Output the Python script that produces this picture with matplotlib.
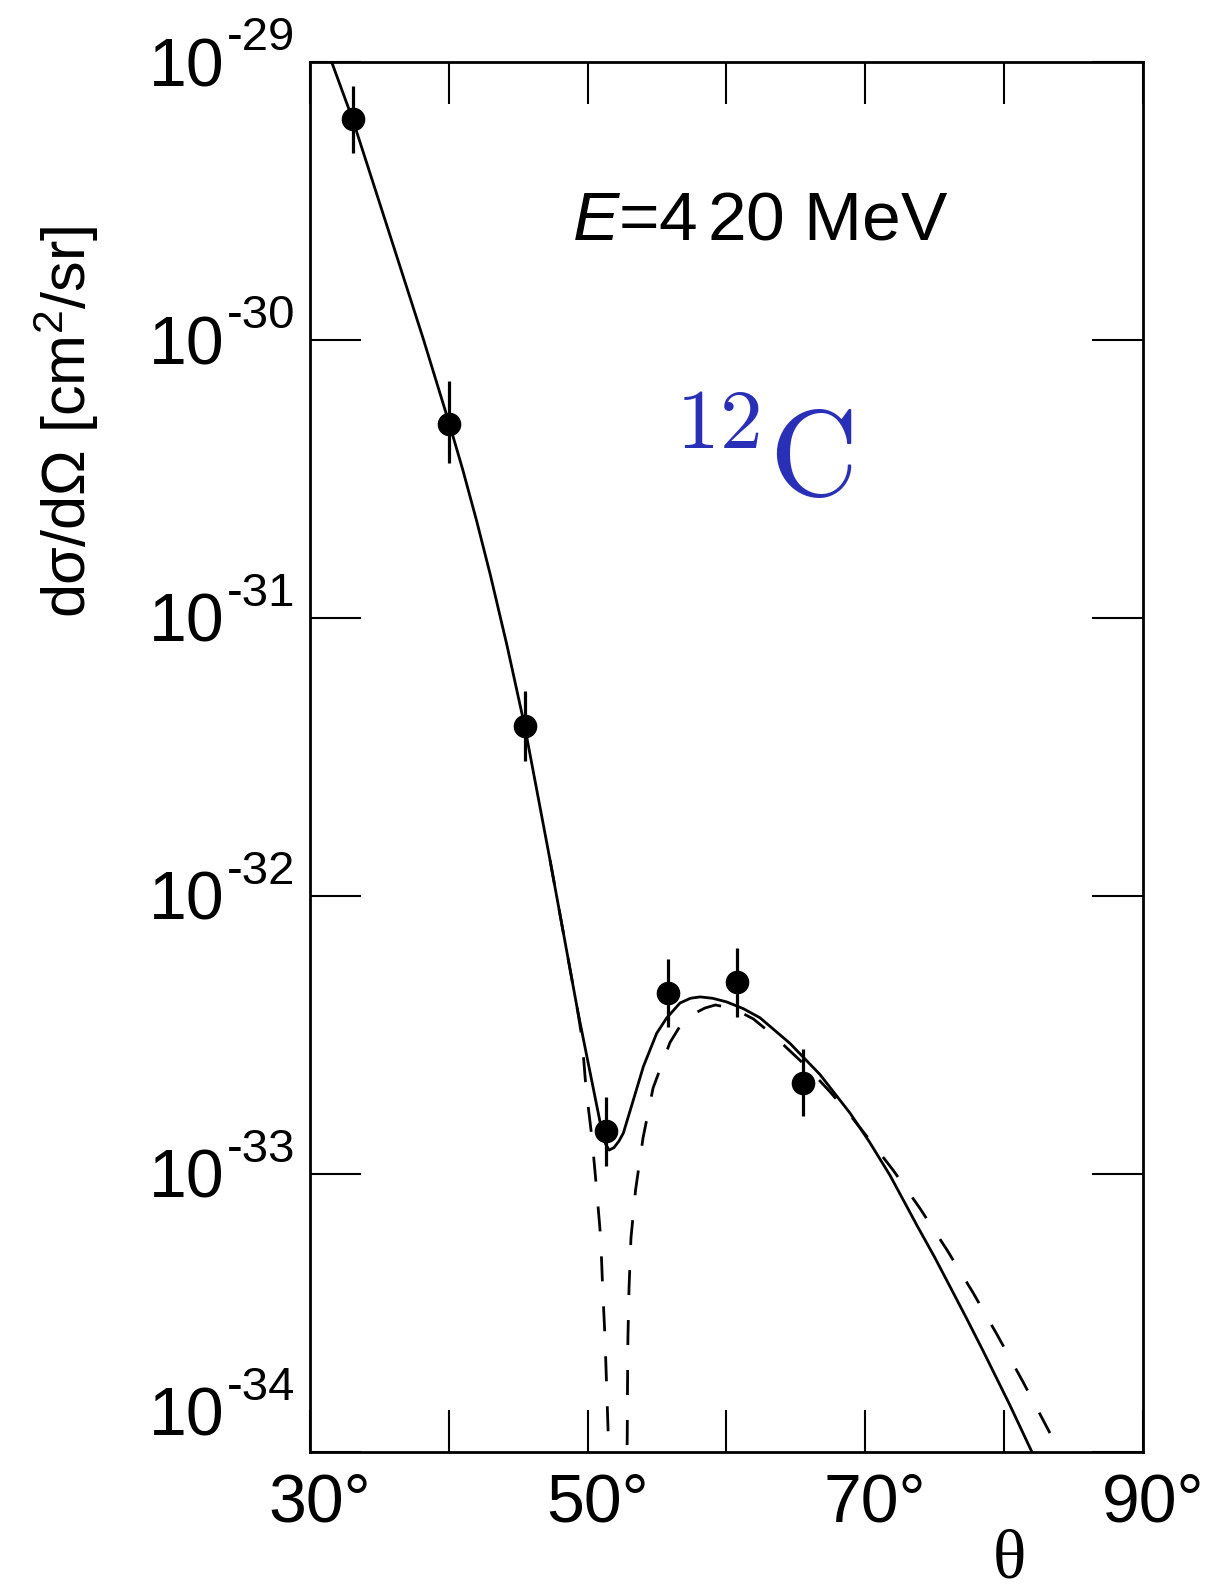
import numpy as np
import matplotlib
matplotlib.use('Agg')
import matplotlib.pyplot as plt
import matplotlib.transforms as mtransforms
from matplotlib.ticker import FixedLocator, FixedFormatter, NullLocator

plt.rcParams['font.family'] = ['Liberation Sans', 'DejaVu Sans']
plt.rcParams['mathtext.fontset'] = 'custom'
plt.rcParams['mathtext.rm'] = 'Liberation Sans'
plt.rcParams['mathtext.it'] = 'Liberation Sans:italic'
plt.rcParams['mathtext.bf'] = 'Liberation Sans:bold'

# --- measured cross sections (cm^2/sr) ---
theta_data = [33.07, 40.04, 45.46, 51.30, 55.81, 60.78, 65.53]
sigma_data = [6.22e-30, 4.99e-31, 4.09e-32, 1.43e-33, 4.49e-33, 4.92e-33, 2.13e-33]
sigma_lo = [4.71e-30, 3.61e-31, 3.07e-32, 1.07e-33, 3.39e-33, 3.68e-33, 1.61e-33]
sigma_hi = [8.20e-30, 7.13e-31, 5.46e-32, 1.89e-33, 5.92e-33, 6.49e-33, 2.81e-33]

# --- solid curve, log10(dsigma/dOmega) ---
theta_solid = [31.56, 33.07, 35.60, 38.16, 40.04, 41.00, 42.00, 43.00, 44.20, 45.46,
               47.29, 49.27, 51.01, 51.30, 51.55, 51.90, 52.25, 52.57, 53.29, 54.01,
               54.97, 55.69, 56.65, 57.40, 58.09, 59.00, 60.01, 61.20, 62.41, 64.57,
               66.73, 68.90, 70.30, 71.78, 73.72, 75.00, 76.10, 77.30, 78.48, 80.42,
               82.00, 82.40]
log_solid = [-29.000, -29.206, -29.598, -29.996, -30.302, -30.466, -30.650, -30.847, -31.101, -31.388,
             -31.871, -32.410, -32.842, -32.893, -32.914, -32.905, -32.882, -32.853, -32.734, -32.614,
             -32.494, -32.439, -32.385, -32.368, -32.363, -32.368, -32.381, -32.405, -32.438, -32.530,
             -32.642, -32.781, -32.885, -33.005, -33.185, -33.300, -33.405, -33.520, -33.636, -33.832,
             -34.000, -34.043]

# --- dashed curve, log10(dsigma/dOmega) ---
theta_dash = [47.29, 49.27, 49.59, 49.88, 50.31, 50.65, 50.94, 51.08, 51.25, 51.37,
              51.49, 51.62, 51.85, 52.20, 52.55, 52.78, 52.85, 52.87, 52.90, 52.98,
              53.12, 53.45, 53.99, 54.71, 55.93, 57.00, 58.45, 59.20, 60.50, 61.93,
              63.35, 65.80, 67.45, 68.90, 70.40, 72.00, 73.94, 75.88, 77.76, 79.48,
              81.36, 83.30]
log_dash = [-31.871, -32.410, -32.511, -32.691, -32.871, -33.058, -33.230, -33.410, -33.590, -33.770,
            -33.950, -34.200, -34.700, -35.500, -34.700, -34.200, -33.950, -33.770, -33.590, -33.410,
            -33.230, -33.058, -32.870, -32.691, -32.527, -32.440, -32.403, -32.392, -32.405, -32.442,
            -32.500, -32.615, -32.704, -32.788, -32.883, -32.986, -33.124, -33.273, -33.427, -33.577,
            -33.748, -33.932]

x_ticks = [30, 40, 50, 60, 70, 80, 90]
x_ticklabels = ['30°', '', '50°', '', '70°', '', '90°']
y_ticks = [1e-34, 1e-33, 1e-32, 1e-31, 1e-30, 1e-29]
y_exponents = ['-34', '-33', '-32', '-31', '-30', '-29']

fig = plt.figure(figsize=(12.1, 15.94), dpi=100)
ax = fig.add_axes([0.2562, 0.0891, 0.6884, 0.8720])

ax.plot(theta_solid, 10.0 ** np.array(log_solid), color='black', lw=2.0)
ax.plot(theta_dash, 10.0 ** np.array(log_dash), color='black', lw=2.0, dashes=(9, 9))

sig = np.array(sigma_data)
yerr = [sig - np.array(sigma_lo), np.array(sigma_hi) - sig]
ax.errorbar(theta_data, sigma_data, yerr=yerr, fmt='o', color='black', ms=16,
            elinewidth=2.3, capsize=0, zorder=5)

ax.set_yscale('log')
ax.set_xlim(30, 90)
ax.set_ylim(1e-34, 1e-29)

ax.xaxis.set_major_locator(FixedLocator(x_ticks))
ax.xaxis.set_major_formatter(FixedFormatter(x_ticklabels))
ax.yaxis.set_major_locator(FixedLocator(y_ticks))
ax.yaxis.set_major_formatter(FixedFormatter([''] * len(y_ticks)))
ax.yaxis.set_minor_locator(NullLocator())
ax.xaxis.set_minor_locator(NullLocator())

ax.tick_params(axis='both', which='major', direction='in', top=True, right=True,
               width=1.5, labelsize=49)
ax.tick_params(axis='y', length=37)
ax.tick_params(axis='x', length=30, pad=14)
for s in ax.spines.values():
    s.set_linewidth(2.0)

# degree sign hangs to the right of the centred digits
for lab in ax.get_xticklabels():
    lab.set_transform(lab.get_transform() + mtransforms.ScaledTranslation(0.10, 0, fig.dpi_scale_trans))

# y tick labels: "10" with a raised exponent; the lowest one sits higher
ytrans = mtransforms.blended_transform_factory(ax.transAxes, ax.transData)
for i, (v, e) in enumerate(zip(y_ticks, y_exponents)):
    lift = 0.40 if i == 0 else 0.0
    t10 = ytrans + mtransforms.ScaledTranslation(-0.86, -0.24 + lift, fig.dpi_scale_trans)
    tex = ytrans + mtransforms.ScaledTranslation(-0.15, 0.12 + lift, fig.dpi_scale_trans)
    ax.text(0, v, '10', transform=t10, ha='right', va='baseline', fontsize=49)
    ax.text(0, v, e, transform=tex, ha='right', va='baseline', fontsize=34)

ax.text(-0.293, 0.741, 'dσ/dΩ [cm$^{2}$/sr]', transform=ax.transAxes, rotation=90,
        ha='center', va='center', fontsize=44)
ax.text(0.840, -0.0906, 'θ', transform=ax.transAxes, ha='center', va='baseline',
        fontsize=50, family=['Liberation Serif', 'DejaVu Serif'])
ax.text(0.315, 0.872, r'$\mathit{E}$=4$\,$20 MeV', transform=ax.transAxes, ha='left',
        va='baseline', fontsize=50)
ax.text(0.433, 0.688, r'$^{12}\mathrm{C}$', transform=ax.transAxes, ha='left',
        va='baseline', fontsize=88, color='#2a2fb8', math_fontfamily='cm')

fig.savefig('out.png', dpi=100)
